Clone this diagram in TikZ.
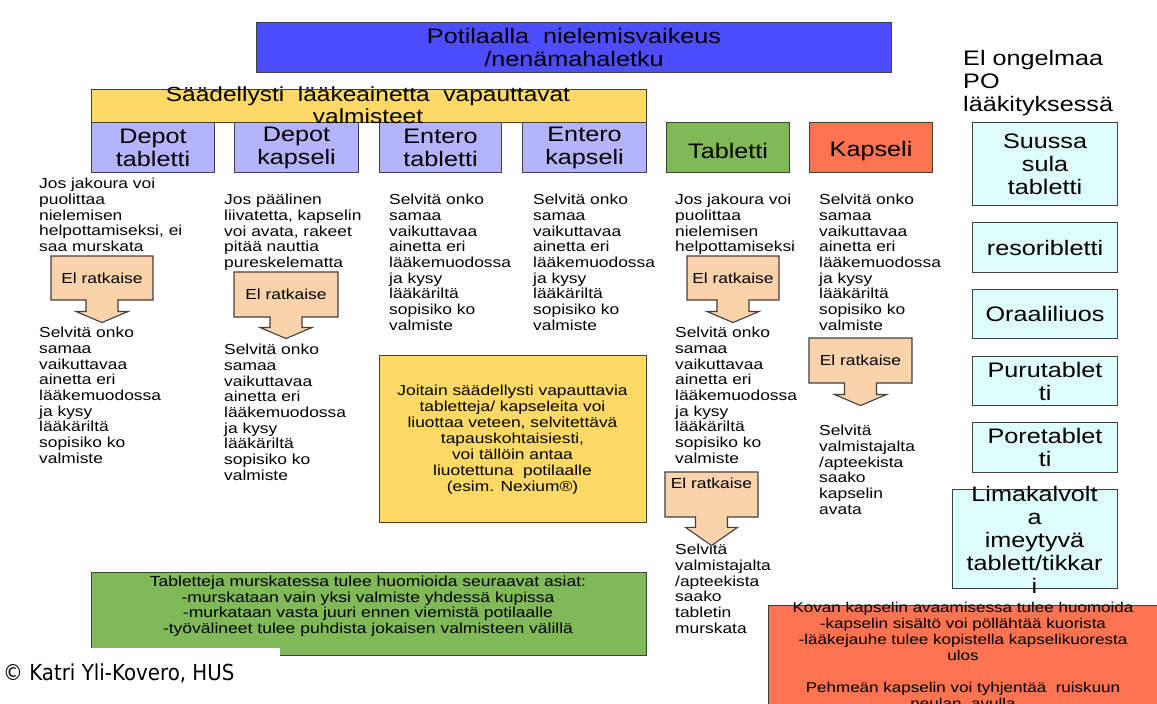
\documentclass[tikz,border=0pt]{standalone}
\usepackage{fontspec}
\setmainfont{Liberation Sans}[FakeStretch=1.2]
\newfontfamily\copyfont{DejaVu Sans}[FakeStretch=0.9]
\usepackage{xcolor}
\usepackage{tikz}
\usetikzlibrary{shapes.arrows}

\definecolor{topblue}{RGB}{77,77,255}
\definecolor{headyellow}{RGB}{255,217,102}
\definecolor{lilac}{RGB}{180,180,250}
\definecolor{tabgreen}{RGB}{128,185,88}
\definecolor{capsred}{RGB}{255,115,80}
\definecolor{icecyan}{RGB}{222,252,252}
\definecolor{peach}{RGB}{250,210,172}
\definecolor{edge}{RGB}{64,64,64}

\newcommand\bigfont{\fontsize{21}{23}\selectfont}
\newcommand\bodyfont{\fontsize{14.5}{15.7}\selectfont}
\newcommand\notefont{\fontsize{14.6}{15.5}\selectfont}
\newcommand\selvitaText{Selvitä onko\\samaa\\vaikuttavaa\\ainetta eri\\lääkemuodossa\\ja kysy\\lääkäriltä\\sopisiko ko\\valmiste}

\begin{document}
\begin{tikzpicture}[x=1pt, y=-1pt,
                box/.style={rectangle, draw=edge, line width=1.1pt, anchor=north west, inner sep=0pt, align=center, font=\bigfont},
                kind/.style={box, fill=lilac, minimum width=123pt, minimum height=50pt},
                form/.style={box, fill=icecyan, minimum width=145pt},
                txt/.style={anchor=north west, inner sep=0pt, align=left, font=\bodyfont, execute at begin node=\strut},
                ratk/.style={arrow box, draw=edge, line width=1.1pt, fill=peach, inner sep=0pt, font=\bodyfont,
                             minimum height=44pt, arrow box arrows={south:22pt},
                             arrow box shaft width=32pt, arrow box head extend=10pt, arrow box tip angle=134}
            ]
                \useasboundingbox (0,0) rectangle (1157,704);

                % Top boxes
                \node[box, fill=topblue, minimum width=635pt, minimum height=50pt] (top) at (256,22) {Potilaalla\ \ nielemisvaikeus\\/nenämahaletku};
                \node[box, fill=headyellow, minimum width=555pt, minimum height=33pt] (sr) at (91,89) {};

                \node[kind] (dtab) at (91,122) {Depot\\tabletti};
                \node[kind, minimum width=124pt] (dkap) at (234,122) {Depot\\kapseli};
                \node[kind, minimum width=122pt] (etab) at (379,122) {Entero\\tabletti};
                \node[kind, minimum width=124pt] (ekap) at (522,122) {Entero\\kapseli};
                \node[kind, fill=tabgreen] (tab) at (666,122) {\mbox{}\\Tabletti};
                \node[kind, fill=capsred] (kap) at (809,122) {\mbox{}\\Kapseli};

                \node[font=\fontsize{20.4}{22}\selectfont, align=center, inner sep=0pt] (srtext) at (368,105.5) {Säädellysti\ \ lääkeainetta\ \ vapauttavat\\valmisteet};

                % Right column
                \node[txt, font=\bigfont] (ok) at (963,50) {El ongelmaa\\PO\\lääkityksessä};
                \node[form, minimum height=83pt] (suu) at (972,122) {Suussa\\sula\\tabletti};
                \node[form, minimum height=50pt] (res) at (972,222) {resoribletti};
                \node[form, minimum height=49pt] (ora) at (972,289) {Oraaliliuos};
                \node[form, minimum height=49pt] (puru) at (972,356) {Purutablet\\ti};
                \node[form, minimum height=50pt] (pore) at (972,422) {Poretablet\\ti};
                \node[form, minimum width=165pt, minimum height=99pt] (lima) at (952,489) {};
                \node[font=\bigfont, align=center, inner sep=0pt] (limatext) at (1034.5,540) {Limakalvolt\\a\\imeytyvä\\tablett/tikkar\\i};

                % Column texts
                \node[txt] (d1a) at (39,178) {Jos jakoura voi\\puolittaa\\nielemisen\\helpottamiseksi, ei\\saa murskata};
                \node[txt] (d1b) at (39,327) {\selvitaText};
                \node[txt] (d2a) at (224,194) {Jos päälinen\\liivatetta, kapselin\\voi avata, rakeet\\pitää nauttia\\pureskelematta};
                \node[txt] (d2b) at (224,344) {\selvitaText};
                \node[txt] (e1) at (389,194) {\selvitaText};
                \node[txt] (e2) at (533,194) {\selvitaText};
                \node[txt] (t1) at (675,194) {Jos jakoura voi\\puolittaa\\nielemisen\\helpottamiseksi};
                \node[txt] (t2) at (675,327) {\selvitaText};
                \node[txt] (t3) at (675,544) {Selvitä\\valmistajalta\\/apteekista\\saako\\tabletin\\murskata};
                \node[txt] (k1) at (819,194) {\selvitaText};
                \node[txt] (k2) at (819,425) {Selvitä\\valmistajalta\\/apteekista\\saako\\kapselin\\avata};

                % El ratkaise arrows
                \node[ratk, minimum width=102pt] (r1) at (102,278) {El ratkaise};
                \node[ratk, minimum width=104pt, minimum height=45pt, arrow box arrows={south:21pt}] (r2) at (286,294.5) {El ratkaise};
                \node[ratk, minimum width=92pt] (r3) at (733,278) {El ratkaise};
                \node[ratk, minimum width=93pt, minimum height=45pt, arrow box arrows={south:28pt}, arrow box tip angle=110,
                      text height=10pt, text depth=22pt] (r4) at (711.5,494.5) {El ratkaise};
                \node[ratk, minimum width=103pt, minimum height=45pt] (r5) at (860.5,360.5) {El ratkaise};

                % Notes
                \node[box, fill=headyellow, minimum width=267pt, minimum height=167pt] (liuos) at (379,355) {};
                \node[align=center, inner sep=0pt, font=\fontsize{14.5}{16}\selectfont] (liuostext) at (512.5,440) {Joitain säädellysti vapauttavia\\tabletteja/ kapseleita voi\\liuottaa veteen, selvitettävä\\tapauskohtaisiesti,\\voi tällöin antaa\\liuotettuna\ \ potilaalle\\(esim. Nexium®)};

                \node[box, fill=tabgreen, minimum width=555pt, minimum height=83pt] (murska) at (91,572) {};
                \node[txt, anchor=north, align=center, font=\notefont] (murskatext) at (368,576) {Tabletteja murskatessa tulee huomioida seuraavat asiat:\\-murskataan vain yksi valmiste yhdessä kupissa\\-murkataan vasta juuri ennen viemistä potilaalle\\-työvälineet tulee puhdista jokaisen valmisteen välillä};

                \node[box, fill=capsred, minimum width=400pt, minimum height=120pt] (kova) at (768,605) {};
                \node[txt, anchor=north, align=center, font=\fontsize{14.2}{16}\selectfont] (kovatext) at (963,602) {Kovan kapselin avaamisessa tulee huomoida\\-kapselin sisältö voi pöllähtää kuorista\\-lääkejauhe tulee kopistella kapselikuoresta\\ulos\\ \\Pehmeän kapselin voi tyhjentää\ \ ruiskuun\\neulan\ \ avulla};

                % Copyright
                \fill[white] (0,648) rectangle (280,704);
                \node[anchor=west, inner sep=0pt, font=\copyfont\fontsize{22}{25}\selectfont] (copy) at (3,673) {© Katri Yli-Kovero, HUS};
            \end{tikzpicture}
\end{document}
